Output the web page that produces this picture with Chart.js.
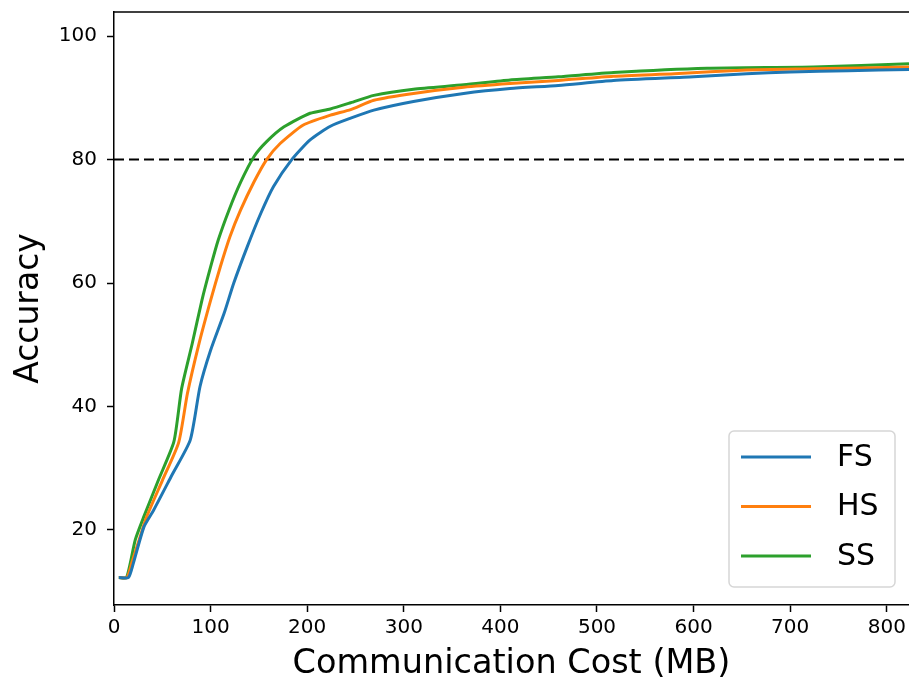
<!DOCTYPE html>
<html>
<head>
<meta charset="utf-8">
<script src="https://cdn.jsdelivr.net/npm/chart.js@4"></script>
<style>
  html, body { margin: 0; padding: 0; background: #fff; }
  #wrap { width: 909px; height: 680px; }
</style>
</head>
<body>
<div id="wrap"><canvas id="c" width="909" height="680"></canvas></div>
<script>
// ---- data ----
const seriesNames = ['FS', 'HS', 'SS'];
const fsCost = [5,15,20,31,41,60,79,89,100,114,124,138,152,165,184,203,224,245,269,310,362,410,460,517,600,655,700,760,823];
const fsAcc  = [12.3,12.3,14.6,20.5,23.2,28.9,34.6,43.2,49.1,55.1,60.0,65.9,71.3,75.6,80.0,83.2,85.4,86.7,88.0,89.4,90.7,91.5,92.0,92.8,93.4,93.9,94.2,94.4,94.6];
const hsCost = [5,13.5,19,26,34,50,67,76,88,100,110,120,131,145,158,172,196,224,245,269,310,362,410,460,517,580,655,724,823];
const hsAcc  = [12.3,12.3,15.0,18.4,22.2,28.0,34.2,42.1,50.2,57.2,62.6,67.5,71.8,76.4,80.0,82.6,85.6,87.2,88.1,89.6,90.7,91.7,92.3,92.8,93.5,93.9,94.5,94.7,95.0];
const ssCost = [5,13,22,31,46,62,70,81,91,100,108,119,131,145,158,176,203,224,245,269,310,362,410,460,517,614,724,823];
const ssAcc  = [12.3,12.3,18.4,22.2,28.1,34.3,42.9,50.2,57.2,62.6,67.0,71.8,76.3,80.5,82.9,85.3,87.5,88.2,89.2,90.4,91.4,92.1,92.9,93.4,94.1,94.8,95.0,95.5];
const threshold = 80;
const xTicks = [0,100,200,300,400,500,600,700,800];
const yTicks = [20,40,60,80,100];
const xRange = [0, 823];
const yRange = [7.85, 103.9];

const colors = ['#1f77b4', '#ff7f0e', '#2ca02c'];
const toPts = (xs, ys) => xs.map((x, i) => ({x: x, y: ys[i]}));
const FONT = 'DejaVu Sans';

const datasets = [
  [fsCost, fsAcc], [hsCost, hsAcc], [ssCost, ssAcc]
].map((s, i) => ({
  label: seriesNames[i],
  data: toPts(s[0], s[1]),
  borderColor: colors[i],
  backgroundColor: colors[i],
  borderWidth: 3,
  pointRadius: 0,
  tension: 0.2,
  fill: false,
  order: 1
}));
datasets.push({
  label: '',
  data: [{x: xRange[0], y: threshold}, {x: xRange[1], y: threshold}],
  borderColor: '#000',
  borderWidth: 2,
  borderDash: [10, 5],
  pointRadius: 0,
  fill: false,
  order: 2
});

const framePlugin = {
  id: 'frame',
  afterDraw(chart) {
    const ctx = chart.ctx, a = chart.chartArea;
    ctx.save();
    ctx.strokeStyle = '#000';
    ctx.lineWidth = 1.5;
    ctx.beginPath();
    ctx.moveTo(a.left, a.top);
    ctx.lineTo(a.right, a.top);
    ctx.stroke();
    // legend
    const bx = a.right - 180, by = a.bottom - 174, bw = 166, bh = 156, r = 5;
    ctx.fillStyle = 'rgba(255,255,255,0.85)';
    ctx.strokeStyle = '#d6d6d6';
    ctx.lineWidth = 1.5;
    ctx.beginPath();
    ctx.moveTo(bx + r, by);
    ctx.arcTo(bx + bw, by, bx + bw, by + bh, r);
    ctx.arcTo(bx + bw, by + bh, bx, by + bh, r);
    ctx.arcTo(bx, by + bh, bx, by, r);
    ctx.arcTo(bx, by, bx + bw, by, r);
    ctx.closePath();
    ctx.fill();
    ctx.stroke();
    ctx.font = '30px "' + FONT + '"';
    ctx.textBaseline = 'middle';
    ctx.textAlign = 'left';
    chart.data.datasets.forEach((ds, i) => {
      if (!ds.label) return;
      const ly = by + 26 + i * 49.5;
      ctx.strokeStyle = ds.borderColor;
      ctx.lineWidth = 3;
      ctx.beginPath();
      ctx.moveTo(bx + 12, ly);
      ctx.lineTo(bx + 82, ly);
      ctx.stroke();
      ctx.fillStyle = '#000';
      ctx.fillText(ds.label, bx + 108, ly + 1);
    });
    ctx.restore();
  }
};

new Chart(document.getElementById('c'), {
  type: 'line',
  data: { datasets: datasets },
  options: {
    responsive: false,
    animation: false,
    layout: { padding: { top: 12, right: 0, left: 0, bottom: 0 } },
    plugins: { legend: { display: false }, tooltip: { enabled: false } },
    scales: {
      x: {
        type: 'linear',
        min: xRange[0], max: xRange[1],
        afterBuildTicks: s => { s.ticks = xTicks.map(v => ({value: v})); },
        afterFit: s => { s.height = 75; s.paddingLeft = 0; s.paddingRight = 0; },
        grid: { drawOnChartArea: false, tickLength: 7, tickWidth: 1.5, tickColor: '#000' },
        border: { display: true, color: '#000', width: 1.5 },
        ticks: { color: '#000', font: { family: FONT, size: 20 }, padding: 4, maxRotation: 0, autoSkip: false },
        title: { display: true, text: 'Communication Cost (MB)', color: '#000', font: { family: FONT, size: 33.5 }, padding: { top: 0, bottom: -4 } }
      },
      y: {
        type: 'linear',
        min: yRange[0], max: yRange[1],
        afterBuildTicks: s => { s.ticks = yTicks.map(v => ({value: v})); },
        afterFit: s => { s.width = 114; s.paddingTop = 0; s.paddingBottom = 0; },
        grid: { drawOnChartArea: false, tickLength: 7, tickWidth: 1.5, tickColor: '#000' },
        border: { display: true, color: '#000', width: 1.5 },
        ticks: { color: '#000', font: { family: FONT, size: 20 }, padding: 10, autoSkip: false },
        title: { display: true, text: 'Accuracy', color: '#000', font: { family: FONT, size: 33 }, padding: { top: 10, bottom: 0 } }
      }
    }
  },
  plugins: [framePlugin]
});
</script>
</body>
</html>
